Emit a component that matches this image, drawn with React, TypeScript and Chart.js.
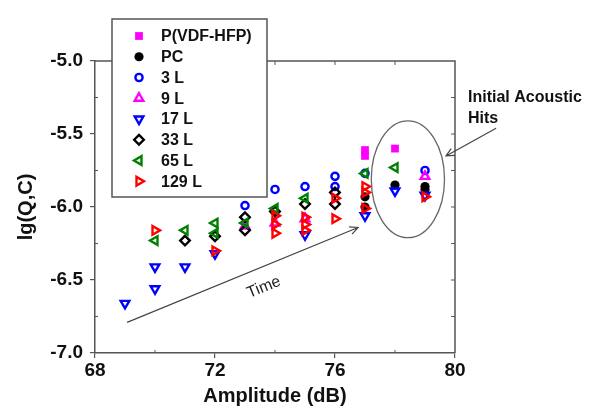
import React, { useEffect, useRef } from 'react';
import { Chart, registerables } from 'chart.js';
Chart.register(...registerables);

// ---- data ----
const seriesNames = ['P(VDF-HFP)', 'PC', '3 L', '9 L', '17 L', '33 L', '65 L', '129 L'];
const pvdfX = [77, 77, 78];
const pvdfY = [-5.61, -5.65, -5.6];
const pcX = [77, 77, 78, 79, 79];
const pcY = [-5.93, -6.0, -5.85, -5.86, -5.88];
const l3X = [73, 74, 75, 76, 76, 77, 79];
const l3Y = [-5.99, -5.88, -5.86, -5.79, -5.86, -5.77, -5.75];
const l9X = [73, 74, 75, 79];
const l9Y = [-6.13, -6.11, -6.08, -5.79];
const l17X = [69, 70, 70, 71, 72, 75, 77, 78, 79];
const l17Y = [-6.66, -6.56, -6.41, -6.41, -6.32, -6.19, -6.06, -5.89, -5.92];
const l33X = [71, 72, 73, 73, 74, 75, 76, 76];
const l33Y = [-6.23, -6.2, -6.07, -6.16, -6.03, -5.98, -5.9, -5.98];
const l65X = [70, 71, 72, 72, 73, 74, 75, 77, 78];
const l65Y = [-6.23, -6.16, -6.11, -6.18, -6.11, -6.01, -5.94, -5.77, -5.73];
const l129X = [70, 72, 74, 74, 74, 75, 75, 75, 76, 76, 77, 77, 77, 79];
const l129Y = [-6.16, -6.3, -6.06, -6.12, -6.18, -6.07, -6.12, -6.16, -5.94, -6.08, -5.86, -5.9, -6.01, -5.93];

const xTicks = [68, 72, 76, 80];
const yTicks = [-7.0, -6.5, -6.0, -5.5, -5.0];

const pts = (xs: number[], ys: number[]) => xs.map((x, i) => ({ x, y: ys[i] }));

type Sty = { style: string; rot: number; r: number; color: string; fill: boolean };
const styles: Sty[] = [
  { style: 'rect', rot: 0, r: 5.5, color: '#ff00ff', fill: true },
  { style: 'circle', rot: 0, r: 4.6, color: '#000000', fill: true },
  { style: 'circle', rot: 0, r: 3.6, color: '#0000ff', fill: false },
  { style: 'triangle', rot: 0, r: 5, color: '#ff00ff', fill: false },
  { style: 'triangle', rot: 180, r: 5, color: '#0000ff', fill: false },
  { style: 'rectRot', rot: 0, r: 4.8, color: '#000000', fill: false },
  { style: 'triangle', rot: -90, r: 5, color: '#008000', fill: false },
  { style: 'triangle', rot: 90, r: 5, color: '#ff0000', fill: false },
];
const seriesData = [
  pts(pvdfX, pvdfY), pts(pcX, pcY), pts(l3X, l3Y), pts(l9X, l9Y),
  pts(l17X, l17Y), pts(l33X, l33Y), pts(l65X, l65Y), pts(l129X, l129Y),
];

const STROKE = 2.4;

function drawMarker(ctx: CanvasRenderingContext2D, s: Sty, x: number, y: number) {
  const r = s.r;
  ctx.save();
  ctx.beginPath();
  if (s.style === 'circle') {
    ctx.arc(x, y, r, 0, Math.PI * 2);
  } else if (s.style === 'rect') {
    const h = Math.SQRT1_2 * r;
    ctx.rect(x - h, y - h, 2 * h, 2 * h);
  } else if (s.style === 'rectRot') {
    ctx.moveTo(x, y - r);
    ctx.lineTo(x + r, y);
    ctx.lineTo(x, y + r);
    ctx.lineTo(x - r, y);
    ctx.closePath();
  } else {
    let rad = (s.rot * Math.PI) / 180;
    ctx.moveTo(x + Math.sin(rad) * r, y - Math.cos(rad) * r);
    rad += (2 * Math.PI) / 3;
    ctx.lineTo(x + Math.sin(rad) * r, y - Math.cos(rad) * r);
    rad += (2 * Math.PI) / 3;
    ctx.lineTo(x + Math.sin(rad) * r, y - Math.cos(rad) * r);
    ctx.closePath();
  }
  if (s.fill) {
    ctx.fillStyle = s.color;
    ctx.fill();
  } else {
    ctx.strokeStyle = s.color;
    ctx.lineWidth = STROKE;
    ctx.stroke();
  }
  ctx.restore();
}

function arrow(ctx: CanvasRenderingContext2D, x1: number, y1: number, x2: number, y2: number) {
  ctx.beginPath();
  ctx.moveTo(x1, y1);
  ctx.lineTo(x2, y2);
  const a = Math.atan2(y2 - y1, x2 - x1);
  const L = 9;
  ctx.moveTo(x2 - L * Math.cos(a - 0.45), y2 - L * Math.sin(a - 0.45));
  ctx.lineTo(x2, y2);
  ctx.lineTo(x2 - L * Math.cos(a + 0.45), y2 - L * Math.sin(a + 0.45));
  ctx.stroke();
}

const FONT = '"Liberation Sans", Arial, sans-serif';

const decor = {
  id: 'decor',
  afterDraw(chart: any) {
    const ctx: CanvasRenderingContext2D = chart.ctx;
    const { left, right, top, bottom } = chart.chartArea;
    const xs = chart.scales.x;
    const ys = chart.scales.y;
    ctx.save();
    // frame top/right
    ctx.strokeStyle = '#555';
    ctx.lineWidth = 1.5;
    ctx.beginPath();
    ctx.moveTo(left, top);
    ctx.lineTo(right, top);
    ctx.lineTo(right, bottom);
    ctx.stroke();
    ctx.lineWidth = 1;
    // minor / mirrored ticks
    ctx.beginPath();
    for (let v = -6.75; v < -5; v += 0.5) {
      const p = ys.getPixelForValue(v);
      ctx.moveTo(left, p);
      ctx.lineTo(left + 3, p);
    }
    for (let v = -6.75; v < -5; v += 0.25) {
      const p = ys.getPixelForValue(v);
      ctx.moveTo(right, p);
      ctx.lineTo(right - 4, p);
    }
    for (const v of [70, 74, 78]) {
      const p = xs.getPixelForValue(v);
      ctx.moveTo(p, bottom);
      ctx.lineTo(p, bottom - 3);
    }
    for (let v = 70; v < 80; v += 2) {
      const p = xs.getPixelForValue(v);
      ctx.moveTo(p, top);
      ctx.lineTo(p, top + 4);
    }
    ctx.stroke();

    // ellipse
    ctx.strokeStyle = '#666';
    ctx.lineWidth = 1.3;
    const ex = xs.getPixelForValue(78.43);
    const ey = ys.getPixelForValue(-5.81);
    const erx = xs.getPixelForValue(78.43 + 1.22) - ex;
    const ery = ys.getPixelForValue(-5.81 - 0.4) - ey;
    ctx.beginPath();
    ctx.ellipse(ex, ey, erx, ery, 0, 0, Math.PI * 2);
    ctx.stroke();

    // time arrow
    ctx.strokeStyle = '#444';
    ctx.lineWidth = 1.2;
    arrow(ctx, xs.getPixelForValue(69.07), ys.getPixelForValue(-6.79), xs.getPixelForValue(76.77), ys.getPixelForValue(-6.14));
    // hits arrow
    arrow(ctx, xs.getPixelForValue(81.37), ys.getPixelForValue(-5.46), xs.getPixelForValue(79.7), ys.getPixelForValue(-5.65));

    // Time label
    ctx.save();
    ctx.translate(xs.getPixelForValue(73.63), ys.getPixelForValue(-6.55));
    ctx.rotate((-22 * Math.PI) / 180);
    ctx.fillStyle = '#222';
    ctx.font = `16px ${FONT}`;
    ctx.textAlign = 'center';
    ctx.textBaseline = 'middle';
    ctx.fillText('Time', 0, 0);
    ctx.restore();

    // Initial Acoustic Hits
    ctx.fillStyle = '#111';
    ctx.font = `bold 16px ${FONT}`;
    ctx.textAlign = 'left';
    ctx.textBaseline = 'alphabetic';
    ctx.fillText('Initial Acoustic', 468, 102);
    ctx.fillText('Hits', 468, 123);

    // legend box
    ctx.fillStyle = '#fff';
    ctx.fillRect(112, 19, 155, 178);
    ctx.strokeStyle = '#555';
    ctx.lineWidth = 1.5;
    ctx.strokeRect(112, 19, 155, 178);
    ctx.font = `bold 16px ${FONT}`;
    ctx.textBaseline = 'middle';
    seriesNames.forEach((name, i) => {
      const yy = 36 + i * 20.75;
      drawMarker(ctx, styles[i], 139, yy);
      ctx.fillStyle = '#111';
      ctx.fillText(name, 161, yy + 1);
    });
    ctx.restore();
  },
};

export default function App() {
  const ref = useRef<HTMLCanvasElement>(null);
  useEffect(() => {
    if (!ref.current) return;
    const chart = new Chart(ref.current, {
      type: 'scatter',
      data: {
        datasets: seriesData.map((d, i) => ({
          label: seriesNames[i],
          data: d,
          pointStyle: styles[i].style as any,
          rotation: styles[i].rot,
          radius: styles[i].r,
          pointRadius: styles[i].r,
          borderColor: styles[i].color,
          backgroundColor: styles[i].fill ? styles[i].color : 'rgba(0,0,0,0)',
          borderWidth: styles[i].fill ? 0 : STROKE,
          order: 8 - i,
        })),
      },
      options: {
        responsive: false,
        animation: false,
        layout: { padding: { top: 61, right: 137, left: 0, bottom: 0 } },
        plugins: { legend: { display: false }, tooltip: { enabled: false } },
        scales: {
          x: {
            type: 'linear',
            min: 68,
            max: 80,
            afterBuildTicks: (s: any) => { s.ticks = xTicks.map((v) => ({ value: v })); },
            afterFit: (s: any) => { s.height = 55; },
            ticks: { color: '#111', font: { family: FONT, size: 19, weight: 'bold' }, padding: 1, maxRotation: 0 },
            grid: { drawOnChartArea: false, drawTicks: true, tickLength: 5, color: '#555', lineWidth: 1.2 },
            border: { color: '#555', width: 1.5 },
            title: { display: true, text: 'Amplitude (dB)', color: '#111', font: { family: FONT, size: 20, weight: 'bold' }, padding: { top: 0, bottom: 0 } },
          },
          y: {
            type: 'linear',
            min: -7,
            max: -5,
            afterBuildTicks: (s: any) => { s.ticks = yTicks.map((v) => ({ value: v })); },
            afterFit: (s: any) => { s.width = 95; },
            ticks: { color: '#111', font: { family: FONT, size: 19, weight: 'bold' }, padding: 7, callback: (v: any) => Number(v).toFixed(1) },
            grid: { drawOnChartArea: false, drawTicks: true, tickLength: 5, color: '#555', lineWidth: 1.2 },
            border: { color: '#555', width: 1.5 },
            title: { display: true, text: 'lg(Q,C)', color: '#111', font: { family: FONT, size: 20, weight: 'bold' }, padding: { top: 14, bottom: 0 } },
          },
        },
      },
      plugins: [decor],
    });
    return () => chart.destroy();
  }, []);
  return (
    <div style={{ position: 'absolute', left: 0, top: 0, width: 592, height: 408, background: '#fff' }}>
      <canvas ref={ref} width={592} height={408} />
    </div>
  );
}
